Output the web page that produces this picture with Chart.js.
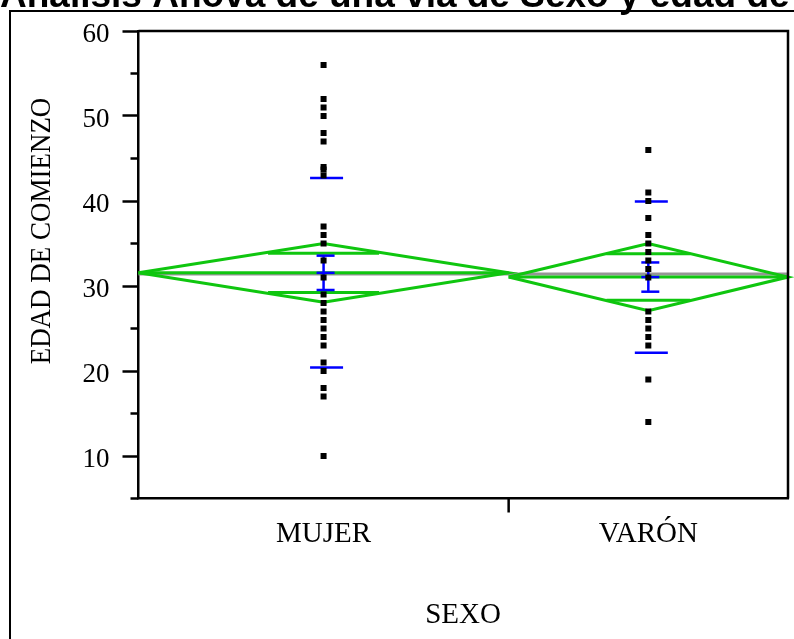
<!DOCTYPE html>
<html>
<head>
<meta charset="utf-8">
<script src="https://cdn.jsdelivr.net/npm/chart.js@4.4.0/dist/chart.umd.min.js"></script>
<style>
  html, body { margin: 0; padding: 0; background: #fff; overflow: hidden; }
  canvas { display: block; }
</style>
</head>
<body>
<canvas id="anovaChart" width="794" height="639"></canvas>
<script>
// Datos (edad de comienzo por sexo)
const categories = ['MUJER', 'VARÓN'];
const groupN = [53, 40];
const mujerEdad = [56, 52, 51, 50, 48, 47, 44, 43.7, 43, 37, 36, 35, 33, 31, 29, 28, 27, 26, 25, 24, 23, 21, 20, 18, 17, 10];
const varonEdad = [46, 41, 40, 38, 36, 35, 34, 33, 32, 31, 27, 26, 25, 24, 23, 19, 14];
const groupMean = [31.55, 31.05];
const grandMean = 31.4;
const ciHalf = [3.45, 3.95];
const overlapHalf = [2.3, 2.73];
const stdDev = [11.15, 8.9];
const stdErr = [2.02, 1.72];
const yTicks = [10, 20, 30, 40, 50, 60];
const yMinorTicks = [5, 15, 25, 35, 45, 55];

// posiciones de grupo en el eje x (anchos proporcionales a n)
const groupStart = groupN.map((n, i) => groupN.slice(0, i).reduce((a, b) => a + b, 0));
const groupEnd = groupStart.map((s, i) => s + groupN[i]);
const groupCenter = groupStart.map((s, i) => s + groupN[i] / 2);
const totalN = groupEnd[groupEnd.length - 1];

const GREEN = 'rgb(15,198,15)';
const BLUE = '#0000ff';
const serif = '"Liberation Serif", "Times New Roman", serif';

const pointData = [
    ...mujerEdad.map(v => ({ x: groupCenter[0], y: v })),
    ...varonEdad.map(v => ({ x: groupCenter[1], y: v }))
];

function lineSet(data, color, width) {
    return {
        data: data,
        showLine: true,
        borderColor: color,
        borderWidth: width,
        pointRadius: 0,
        clip: false
    };
}

const datasets = [{
    data: pointData,
    pointStyle: 'rect',
    pointRadius: 4.25,
    pointBorderWidth: 0,
    backgroundColor: '#000',
    borderColor: '#000'
}];

groupMean.forEach((m, i) => {
    const s = groupStart[i], e = groupEnd[i], c = groupCenter[i];
    const w = groupN[i] * 0.15;
    datasets.push(lineSet([{ x: c - w, y: m + overlapHalf[i] }, { x: c + w, y: m + overlapHalf[i] }], GREEN, 3));
    datasets.push(lineSet([{ x: c - w, y: m - overlapHalf[i] }, { x: c + w, y: m - overlapHalf[i] }], GREEN, 3));
    datasets.push(lineSet([{ x: s, y: m }, { x: e, y: m }], GREEN, 3));
    datasets.push(lineSet([
        { x: s, y: m }, { x: c, y: m + ciHalf[i] }, { x: e, y: m },
        { x: c, y: m - ciHalf[i] }, { x: s, y: m }
    ], GREEN, 3));
});

datasets.push(lineSet([{ x: 0, y: grandMean }, { x: totalN, y: grandMean }], 'rgb(150,150,150)', 3));

const anovaPlugin = {
    id: 'anovaPlugin',
    beforeDatasetDraw(chart, args) {
        if (args.index !== 0) return;
        // barras azules: desviación típica y error típico
        const { ctx, scales: { x, y } } = chart;
        ctx.save();
        ctx.strokeStyle = BLUE;
        ctx.lineWidth = 2.5;
        groupMean.forEach((m, i) => {
            const cx = x.getPixelForValue(groupCenter[i]);
            const hLine = (val, half, off) => {
                const py = y.getPixelForValue(val);
                ctx.beginPath();
                ctx.moveTo(cx + off - half, py);
                ctx.lineTo(cx + off + half, py);
                ctx.stroke();
            };
            hLine(m + stdDev[i], 16.5, 3);
            hLine(m - stdDev[i], 16.5, 3);
            hLine(m + stdErr[i], 9, 2);
            hLine(m - stdErr[i], 9, 2);
            hLine(m, 9, 2);
            ctx.beginPath();
            ctx.moveTo(cx, y.getPixelForValue(m + stdErr[i]));
            ctx.lineTo(cx, y.getPixelForValue(m - stdErr[i]));
            ctx.stroke();
        });
        ctx.restore();
    },
    afterDraw(chart) {
        const { ctx, chartArea: a, scales: { x, y } } = chart;
        ctx.save();
        ctx.strokeStyle = '#000';
        // marco del gráfico
        ctx.lineWidth = 2.5;
        ctx.beginPath();
        ctx.moveTo(a.left, a.top);
        ctx.lineTo(a.right, a.top);
        ctx.lineTo(a.right, a.bottom);
        ctx.stroke();
        // marcas menores del eje y
        yMinorTicks.forEach(v => {
            const py = y.getPixelForValue(v);
            ctx.beginPath();
            ctx.moveTo(a.left - 8, py);
            ctx.lineTo(a.left, py);
            ctx.stroke();
        });
        // separador de grupos
        groupEnd.slice(0, -1).forEach(v => {
            const px = x.getPixelForValue(v);
            ctx.beginPath();
            ctx.moveTo(px, a.bottom);
            ctx.lineTo(px, a.bottom + 14);
            ctx.stroke();
        });
        // marco exterior
        ctx.lineWidth = 2;
        ctx.beginPath();
        ctx.moveTo(10, chart.height);
        ctx.lineTo(10, 11);
        ctx.lineTo(chart.width, 11);
        ctx.stroke();
        // títulos
        ctx.fillStyle = '#000';
        ctx.font = 'bold 37px "Liberation Sans", Arial, sans-serif';
        ctx.textAlign = 'left';
        ctx.textBaseline = 'alphabetic';
        ctx.fillText('Análisis Anova de una vía de Sexo y edad de comienzo', 0, 7);
        ctx.font = '29px ' + serif;
        ctx.textAlign = 'center';
        ctx.textBaseline = 'middle';
        ctx.fillText('SEXO', 463, 615);
        ctx.translate(42.5, 231);
        ctx.rotate(-Math.PI / 2);
        ctx.scale(0.93, 1);
        ctx.font = '29px ' + serif;
        ctx.fillText('EDAD DE COMIENZO', 0, 0);
        ctx.restore();
    }
};

new Chart(document.getElementById('anovaChart'), {
    type: 'scatter',
    data: { datasets: datasets },
    options: {
        responsive: false,
        animation: false,
        devicePixelRatio: 1,
        layout: { padding: { top: 31, right: 6, left: 0, bottom: 0 } },
        plugins: {
            legend: { display: false },
            tooltip: { enabled: false }
        },
        scales: {
            x: {
                type: 'linear',
                min: 0,
                max: totalN,
                afterFit: s => { s.height = 140.5; },
                afterBuildTicks: s => { s.ticks = groupCenter.map(v => ({ value: v })); },
                grid: { display: false },
                border: { display: true, color: '#000', width: 2.5 },
                ticks: {
                    color: '#000',
                    padding: 10,
                    maxRotation: 0,
                    font: { family: serif, size: 29 },
                    callback: (v, i) => categories[i]
                }
            },
            y: {
                min: 5,
                max: 60,
                afterFit: s => { s.width = 138.5; },
                afterBuildTicks: s => { s.ticks = yTicks.map(v => ({ value: v })); },
                grid: {
                    drawOnChartArea: false,
                    drawTicks: true,
                    tickLength: 16,
                    tickWidth: 2.5,
                    tickColor: '#000'
                },
                border: { display: true, color: '#000', width: 2.5 },
                ticks: {
                    color: '#000',
                    padding: 13,
                    labelOffset: 4,
                    font: { family: serif, size: 27 }
                }
            }
        }
    },
    plugins: [anovaPlugin]
});
</script>
</body>
</html>
